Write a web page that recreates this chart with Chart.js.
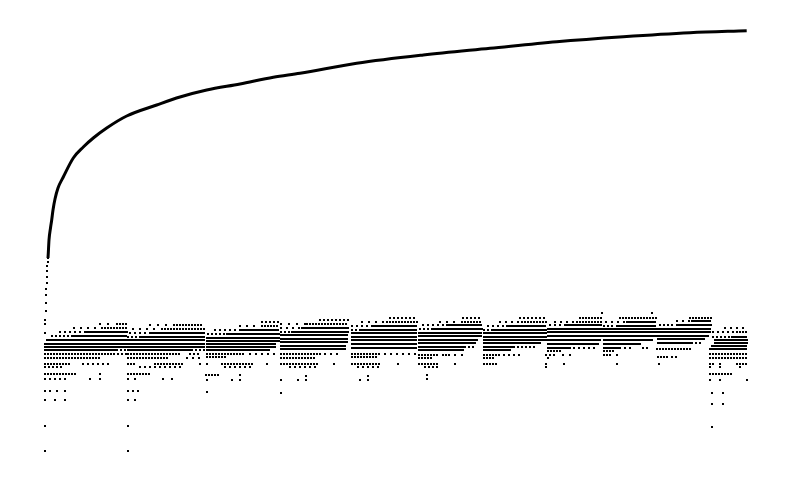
<!DOCTYPE html>
<html>
<head>
<meta charset="utf-8">
<script src="https://cdn.jsdelivr.net/npm/chart.js@4/dist/chart.umd.min.js"></script>
<style>
  html, body { margin: 0; padding: 0; background: #fff; }
  #wrap { width: 792px; height: 482px; position: relative; }
</style>
</head>
<body>
<div id="wrap"><canvas id="c"></canvas></div>
<script>
// ---- upper curve (x, y) ----
const curveHeadX = [0, 0, 0, 1, 1, 1, 1, 2, 2, 2, 2, 3, 3];
const curveHeadY = [119, 128, 132, 141, 149, 157, 163, 169, 175, 181, 186, 190, 194];
const curveX = [3, 3.3, 4, 5.5, 6.7, 8, 10, 13, 18.3, 28.3, 38.3, 48.3, 61.7, 81.7, 111.7, 135, 161.7, 195, 228.3, 255, 311.7, 378.3, 445, 511.7, 578.3, 645, 701.7];
const curveY = [194, 199, 212, 224, 232, 242, 253, 264, 275, 294, 305, 314, 324, 336, 347, 355, 362, 368, 374.7, 378.7, 388.7, 397, 403.7, 410.3, 415.3, 419.3, 421.3];

// ---- lower band: observed dot rows [y, xFrom, xTo, spacing] per block ----
const bandA = [[128,55,70,8],[128,72,82,3],[124,29,55,7],[124,57,82,3],[120,15,40,5],[120,42,82,2],[116,7,25,4],[116,27,82,2],
  [112,2,82,2],[108,0,82,2],[105,0,82,2],[102,0,70,2],[102,72,82,4],
  [98,0,69,3],[98,73,81,4],[94,0,55,3],[88,0,25,3],[88,38,63,5],[85,0,17,4],[78,0,30,3],[78,55,55,1],
  [73,0,20,5],[73,45,45,1],[73,55,55,1],[61,0,0,1],[61,5,5,1],[61,12,12,1],[61,20,20,1],[52,0,20,10],[26,0,0,1],[1,0,0,1]];
const bandB = [[127,105,130,8],[127,132,158,3],[123,88,115,7],[123,117,159,3],[119,85,105,5],[119,107,159,2],[115,83,95,4],[115,97,159,2],
  [112,83,159,2],[108,83,159,2],[105,83,159,2],[102,83,145,2],[102,147,159,4],
  [98,83,135,3],[98,145,155,4],[94,83,123,3],[94,142,154,6],[88,83,90,3],[88,110,138,3],[88,155,155,1],[85,95,135,5],
  [78,83,105,3],[73,83,83,1],[73,90,90,1],[73,118,118,1],[73,127,127,1],[61,83,93,5],[52,83,90,7],[26,83,83,1],[1,83,83,1]];
const bandC = [[130,217,234,4],[126,195,215,7],[126,217,234,3],[122,170,195,5],[122,197,234,2],[118,163,180,4],[118,182,234,2],
  [114,162,234,2],[111,162,234,2],[108,162,230,2],[105,162,230,2],
  [102,162,225,2],[98,162,198,3],[98,205,230,6],[95,162,182,3],[88,162,162,1],[88,177,207,3],[88,222,222,1],[85,180,205,5],
  [77,161,174,3],[77,195,195,1],[72,162,162,1],[72,187,195,8],[60,162,162,1]];
const bandD = [[132,275,303,4],[128,236,260,8],[128,262,303,3],[124,236,255,6],[124,257,303,2],[120,236,245,4],[120,247,303,2],
  [117,236,303,2],[113,236,303,2],[110,236,303,2],
  [106,236,301,2],[103,236,300,2],[98,236,275,3],[98,280,295,6],[94,236,270,3],[88,236,273,3],[88,289,289,1],[85,245,270,5],
  [76,261,261,1],[72,236,236,1],[72,253,261,8],[59,236,236,1]];
const bandE = [[134,345,372,4],[130,317,340,7],[130,342,372,3],[126,307,325,5],[126,327,372,2],[122,307,315,4],[122,317,372,2],
  [119,307,372,2],[115,307,372,2],[112,307,372,2],[108,307,372,2],
  [104,307,372,2],[98,307,335,3],[98,340,370,6],[95,307,333,3],[88,307,335,3],[88,353,353,1],[85,313,333,5],[76,323,323,1],[72,315,323,8]];
const bandF = [[134,418,437,4],[130,395,415,7],[130,417,437,3],[127,378,400,5],[127,402,437,2],[123,375,385,4],[123,387,437,2],
  [119,374,437,2],[116,374,437,2],[112,374,433,2],[109,374,430,2],
  [105,374,418,2],[105,420,430,4],[102,374,418,2],[97,374,393,3],[97,398,405,3],[97,410,417,7],[94,374,387,3],[88,374,393,3],[88,410,410,1],
  [85,380,393,4],[77,382,382,1],[73,382,382,1]];
const bandG = [[134,475,501,4],[130,455,475,6],[130,477,501,3],[126,443,460,5],[126,462,501,2],[122,439,447,4],[122,449,501,2],
  [119,439,501,2],[115,439,501,2],[112,439,501,2],[109,439,495,2],
  [105,439,470,2],[105,473,490,4],[102,439,465,2],[97,439,455,3],[97,459,474,5],[94,439,450,3],[88,439,452,3],[88,501,501,1],[85,501,501,1]];
const bandH = [[139,557,557,1],[134,535,557,3],[130,510,530,6],[130,532,557,3],[127,505,520,5],[127,522,557,2],
  [123,503,557,2],[120,503,557,2],[116,503,557,2],[112,503,555,2],
  [108,503,553,2],[104,503,525,2],[104,529,550,5],[101,503,515,3],[97,501,509,4],[97,518,525,7],[94,503,503,1],[88,519,519,1]];
const bandI = [[139,607,607,1],[134,575,611,3],[130,561,580,6],[130,582,611,2],[126,559,570,4],[126,572,611,2],
  [123,559,611,2],[120,559,611,2],[116,559,611,2],[112,559,607,2],
  [108,559,595,2],[104,559,575,2],[104,580,585,5],[104,598,602,4],[101,559,570,3],[97,559,567,3],[97,572,572,1],[88,572,572,1]];
const bandJ = [[134,645,666,3],[131,632,645,6],[131,647,666,2],[127,615,630,4],[127,632,666,2],[123,613,666,2],[120,613,665,2],[116,613,663,2],[113,613,660,2],
  [109,613,648,2],[109,651,655,4],[103,612,645,3],[95,613,622,3],[95,627,631,4],[88,614,614,1]];
const bandK = [[124,680,702,6],[120,668,690,5],[120,692,702,3],[115,668,685,4],[115,687,702,2],[112,670,702,2],[109,670,702,2],[106,667,702,2],[103,665,702,2],
  [98,665,702,3],[94,665,702,3],[88,665,670,3],[88,675,675,1],[88,692,702,3],[85,665,675,10],[85,695,695,1],
  [78,665,687,3],[72,665,675,10],[72,702,702,1],[59,667,678,11],[48,667,678,11],[25,667,667,1]];

const bands = [bandA, bandB, bandC, bandD, bandE, bandF, bandG, bandH, bandI, bandJ, bandK];

const bandPoints = [];
bands.forEach(rows => rows.forEach(([y, x1, x2, step]) => {
  for (let x = x1; x <= x2; x += step) bandPoints.push({ x: x, y: y });
}));
const headPoints = curveHeadX.map((x, i) => ({ x: x, y: curveHeadY[i] }));
const curvePoints = curveX.map((x, i) => ({ x: x, y: curveY[i] }));

new Chart(document.getElementById('c'), {
  type: 'scatter',
  data: {
    datasets: [
      { data: bandPoints, pointStyle: 'rect', pointRadius: 1.42, pointBorderWidth: 0,
        backgroundColor: '#000', borderColor: '#000', clip: false },
      { data: headPoints, pointStyle: 'rect', pointRadius: 1.42, pointBorderWidth: 0,
        backgroundColor: '#000', borderColor: '#000', clip: false },
      { data: curvePoints, showLine: true, pointRadius: 0, borderWidth: 3, borderColor: '#000',
        backgroundColor: '#000', cubicInterpolationMode: 'monotone', clip: false }
    ]
  },
  options: {
    responsive: true,
    maintainAspectRatio: false,
    animation: false,
    events: [],
    layout: { padding: { left: 45, right: 44, top: 30, bottom: 30 } },
    plugins: { legend: { display: false }, tooltip: { enabled: false } },
    scales: {
      x: { type: 'linear', display: false, min: 0, max: 703 },
      y: { type: 'linear', display: false, min: 0, max: 422 }
    }
  }
});
</script>
</body>
</html>
